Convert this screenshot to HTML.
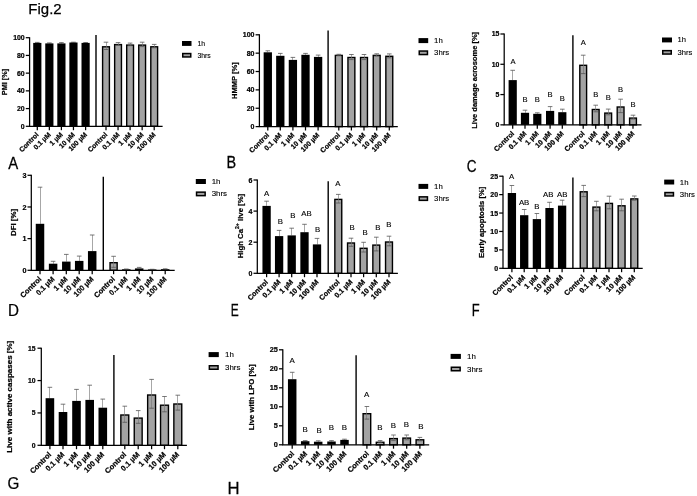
<!DOCTYPE html>
<html lang="en"><head><meta charset="utf-8"><title>Fig.2</title>
<style>html,body{margin:0;padding:0;background:#fff;overflow:hidden}svg{display:block;filter:blur(0.3px)}text{font-family:"Liberation Sans",Arial,sans-serif;fill:#000}.b{font-weight:bold;stroke:#000;stroke-width:0.22}.r{font-weight:normal;stroke:#000;stroke-width:0.12}.a{stroke:#000;stroke-width:1.25;fill:none}.d{stroke:#000;stroke-width:1.4;fill:none}.e{stroke:#777;stroke-width:0.65;fill:none}.c{stroke:#555;stroke-width:0.8;fill:none}.t{font-weight:normal;stroke:#000;stroke-width:0.25}</style></head><body>
<svg width="697" height="496" viewBox="0 0 697 496">
<rect width="697" height="496" fill="#fff"/>
<text class="t" font-size="14.97" transform="translate(28.36 13.6) scale(1.000 1)">Fig.2</text>
<text class="t" font-size="16.15" transform="translate(8.31 168.7) scale(0.926 1)">A</text>
<text class="t" font-size="16.15" transform="translate(226.41 167.6) scale(0.896 1)">B</text>
<text class="t" font-size="15.83" transform="translate(466.82 171.84) scale(0.859 1)">C</text>
<text class="t" font-size="16" transform="translate(8.05 315.9) scale(0.949 1)">D</text>
<text class="t" font-size="16.58" transform="translate(230.81 315.7) scale(0.723 1)">E</text>
<text class="t" font-size="16.29" transform="translate(471.73 315.9) scale(0.793 1)">F</text>
<text class="t" font-size="16.11" transform="translate(7.59 489.34) scale(0.946 1)">G</text>
<text class="t" font-size="16.87" transform="translate(227.62 493.6) scale(0.989 1)">H</text>
<!-- panel A -->
<g>
<line class="e" x1="37.5" y1="42.9" x2="37.5" y2="42.4"/>
<line class="c" x1="35" y1="42.4" x2="39.6" y2="42.4"/>
<rect x="33.2" y="42.9" width="8.2" height="83.4" fill="#000"/>
<line class="e" x1="49.5" y1="43.4" x2="49.5" y2="42.9"/>
<line class="c" x1="47.05" y1="42.9" x2="51.65" y2="42.9"/>
<rect x="45.25" y="43.4" width="8.2" height="82.9" fill="#000"/>
<line class="e" x1="61.5" y1="43.4" x2="61.5" y2="42.6"/>
<line class="c" x1="59.1" y1="42.6" x2="63.7" y2="42.6"/>
<rect x="57.3" y="43.4" width="8.2" height="82.9" fill="#000"/>
<line class="e" x1="73.5" y1="42.5" x2="73.5" y2="42.2"/>
<line class="c" x1="71.15" y1="42.2" x2="75.75" y2="42.2"/>
<rect x="69.35" y="42.5" width="8.2" height="83.8" fill="#000"/>
<line class="e" x1="85.5" y1="42.9" x2="85.5" y2="42.5"/>
<line class="c" x1="83.3" y1="42.5" x2="87.9" y2="42.5"/>
<rect x="81.5" y="42.9" width="8.2" height="83.4" fill="#000"/>
<rect x="102.6" y="46.8" width="6.8" height="79.5" fill="#a3a3a3" stroke="#000" stroke-width="1.4"/>
<line class="e" x1="106.5" y1="49.5" x2="106.5" y2="42.2"/>
<line class="c" x1="103.7" y1="42.2" x2="108.3" y2="42.2"/>
<line class="c" x1="103.7" y1="49.5" x2="108.3" y2="49.5"/>
<rect x="114.65" y="44.6" width="6.8" height="81.7" fill="#a3a3a3" stroke="#000" stroke-width="1.4"/>
<line class="e" x1="118.5" y1="45.2" x2="118.5" y2="42.6"/>
<line class="c" x1="115.75" y1="42.6" x2="120.35" y2="42.6"/>
<line class="c" x1="115.75" y1="45.2" x2="120.35" y2="45.2"/>
<rect x="126.7" y="45.1" width="6.8" height="81.2" fill="#a3a3a3" stroke="#000" stroke-width="1.4"/>
<line class="e" x1="130.5" y1="45.7" x2="130.5" y2="43.1"/>
<line class="c" x1="127.8" y1="43.1" x2="132.4" y2="43.1"/>
<line class="c" x1="127.8" y1="45.7" x2="132.4" y2="45.7"/>
<rect x="138.75" y="45.1" width="6.8" height="81.2" fill="#a3a3a3" stroke="#000" stroke-width="1.4"/>
<line class="e" x1="142.5" y1="46.6" x2="142.5" y2="42.2"/>
<line class="c" x1="139.85" y1="42.2" x2="144.45" y2="42.2"/>
<line class="c" x1="139.85" y1="46.6" x2="144.45" y2="46.6"/>
<rect x="150.8" y="46.8" width="6.8" height="79.5" fill="#a3a3a3" stroke="#000" stroke-width="1.4"/>
<line class="e" x1="154.5" y1="47.8" x2="154.5" y2="44.4"/>
<line class="c" x1="151.9" y1="44.4" x2="156.5" y2="44.4"/>
<line class="c" x1="151.9" y1="47.8" x2="156.5" y2="47.8"/>
<path class="a" d="M29.6 37.2V126.3H162.6"/>
<line class="d" x1="96" y1="35" x2="96" y2="126.3"/>
<line class="a" x1="25.8" y1="126.3" x2="29.6" y2="126.3"/>
<text class="b" font-size="6.9" text-anchor="end" x="24.7" y="128.78">0</text>
<line class="a" x1="25.8" y1="108.58" x2="29.6" y2="108.58"/>
<text class="b" font-size="6.9" text-anchor="end" x="24.7" y="111.06">20</text>
<line class="a" x1="25.8" y1="90.86" x2="29.6" y2="90.86"/>
<text class="b" font-size="6.9" text-anchor="end" x="24.7" y="93.34">40</text>
<line class="a" x1="25.8" y1="73.14" x2="29.6" y2="73.14"/>
<text class="b" font-size="6.9" text-anchor="end" x="24.7" y="75.62">60</text>
<line class="a" x1="25.8" y1="55.42" x2="29.6" y2="55.42"/>
<text class="b" font-size="6.9" text-anchor="end" x="24.7" y="57.9">80</text>
<line class="a" x1="25.8" y1="37.7" x2="29.6" y2="37.7"/>
<text class="b" font-size="6.9" text-anchor="end" x="24.7" y="40.18">100</text>
<line class="a" x1="37.3" y1="126.3" x2="37.3" y2="130.2"/>
<text class="b" font-size="6.9" text-anchor="end" transform="translate(39.2 135.1) rotate(-45)">Control</text>
<line class="a" x1="49.35" y1="126.3" x2="49.35" y2="130.2"/>
<text class="b" font-size="6.9" text-anchor="end" transform="translate(51.25 135.1) rotate(-45)">0.1 µM</text>
<line class="a" x1="61.4" y1="126.3" x2="61.4" y2="130.2"/>
<text class="b" font-size="6.9" text-anchor="end" transform="translate(63.3 135.1) rotate(-45)">1 µM</text>
<line class="a" x1="73.45" y1="126.3" x2="73.45" y2="130.2"/>
<text class="b" font-size="6.9" text-anchor="end" transform="translate(75.35 135.1) rotate(-45)">10 µM</text>
<line class="a" x1="85.6" y1="126.3" x2="85.6" y2="130.2"/>
<text class="b" font-size="6.9" text-anchor="end" transform="translate(87.5 135.1) rotate(-45)">100 µM</text>
<line class="a" x1="106" y1="126.3" x2="106" y2="130.2"/>
<text class="b" font-size="6.9" text-anchor="end" transform="translate(107.9 135.1) rotate(-45)">Control</text>
<line class="a" x1="118.05" y1="126.3" x2="118.05" y2="130.2"/>
<text class="b" font-size="6.9" text-anchor="end" transform="translate(119.95 135.1) rotate(-45)">0.1 µM</text>
<line class="a" x1="130.1" y1="126.3" x2="130.1" y2="130.2"/>
<text class="b" font-size="6.9" text-anchor="end" transform="translate(132 135.1) rotate(-45)">1 µM</text>
<line class="a" x1="142.15" y1="126.3" x2="142.15" y2="130.2"/>
<text class="b" font-size="6.9" text-anchor="end" transform="translate(144.05 135.1) rotate(-45)">10 µM</text>
<line class="a" x1="154.2" y1="126.3" x2="154.2" y2="130.2"/>
<text class="b" font-size="6.9" text-anchor="end" transform="translate(156.1 135.1) rotate(-45)">100 µM</text>
<text class="b" font-size="7.3" text-anchor="middle" transform="translate(7.4 82) rotate(-90)">PMI [%]</text>
<rect x="182" y="41" width="9.5" height="4.9" fill="#000"/>
<rect x="182.75" y="53.55" width="8" height="3.4" fill="#a3a3a3" stroke="#000" stroke-width="1.5"/>
<text class="r" font-size="6.85" x="197.4" y="45.9">1h</text>
<text class="r" font-size="6.85" x="197.4" y="57.7">3hrs</text>
</g>
<!-- panel B -->
<g>
<line class="e" x1="267.5" y1="52.3" x2="267.5" y2="50.8"/>
<line class="c" x1="265.5" y1="50.8" x2="270.1" y2="50.8"/>
<rect x="263.65" y="52.3" width="8.3" height="74.3" fill="#000"/>
<line class="e" x1="280.5" y1="55.8" x2="280.5" y2="53.4"/>
<line class="c" x1="278" y1="53.4" x2="282.6" y2="53.4"/>
<rect x="276.15" y="55.8" width="8.3" height="70.8" fill="#000"/>
<line class="e" x1="292.5" y1="59.9" x2="292.5" y2="57.4"/>
<line class="c" x1="290.6" y1="57.4" x2="295.2" y2="57.4"/>
<rect x="288.75" y="59.9" width="8.3" height="66.7" fill="#000"/>
<line class="e" x1="305.5" y1="54.8" x2="305.5" y2="53.4"/>
<line class="c" x1="303.2" y1="53.4" x2="307.8" y2="53.4"/>
<rect x="301.35" y="54.8" width="8.3" height="71.8" fill="#000"/>
<line class="e" x1="318.5" y1="56.9" x2="318.5" y2="55.1"/>
<line class="c" x1="315.8" y1="55.1" x2="320.4" y2="55.1"/>
<rect x="313.95" y="56.9" width="8.3" height="69.7" fill="#000"/>
<rect x="335.35" y="55.4" width="6.9" height="71.2" fill="#a3a3a3" stroke="#000" stroke-width="1.4"/>
<line class="e" x1="338.5" y1="55.4" x2="338.5" y2="54.3"/>
<line class="c" x1="336.5" y1="54.3" x2="341.1" y2="54.3"/>
<line class="c" x1="336.5" y1="55.4" x2="341.1" y2="55.4"/>
<rect x="347.95" y="57.5" width="6.9" height="69.1" fill="#a3a3a3" stroke="#000" stroke-width="1.4"/>
<line class="e" x1="351.5" y1="59.6" x2="351.5" y2="54.5"/>
<line class="c" x1="349.1" y1="54.5" x2="353.7" y2="54.5"/>
<line class="c" x1="349.1" y1="59.6" x2="353.7" y2="59.6"/>
<rect x="360.55" y="57.5" width="6.9" height="69.1" fill="#a3a3a3" stroke="#000" stroke-width="1.4"/>
<line class="e" x1="364.5" y1="59.6" x2="364.5" y2="54.5"/>
<line class="c" x1="361.7" y1="54.5" x2="366.3" y2="54.5"/>
<line class="c" x1="361.7" y1="59.6" x2="366.3" y2="59.6"/>
<rect x="373.25" y="55.4" width="6.9" height="71.2" fill="#a3a3a3" stroke="#000" stroke-width="1.4"/>
<line class="e" x1="376.5" y1="56" x2="376.5" y2="53.8"/>
<line class="c" x1="374.4" y1="53.8" x2="379" y2="53.8"/>
<line class="c" x1="374.4" y1="56" x2="379" y2="56"/>
<rect x="385.85" y="56.3" width="6.9" height="70.3" fill="#a3a3a3" stroke="#000" stroke-width="1.4"/>
<line class="e" x1="389.5" y1="57.8" x2="389.5" y2="53.9"/>
<line class="c" x1="387" y1="53.9" x2="391.6" y2="53.9"/>
<line class="c" x1="387" y1="57.8" x2="391.6" y2="57.8"/>
<path class="a" d="M259.4 34.3V126.6H397.8"/>
<line class="d" x1="328.1" y1="30.5" x2="328.1" y2="126.6"/>
<line class="a" x1="255.6" y1="126.6" x2="259.4" y2="126.6"/>
<text class="b" font-size="7" text-anchor="end" x="254.5" y="129.12">0</text>
<line class="a" x1="255.6" y1="108.24" x2="259.4" y2="108.24"/>
<text class="b" font-size="7" text-anchor="end" x="254.5" y="110.76">20</text>
<line class="a" x1="255.6" y1="89.88" x2="259.4" y2="89.88"/>
<text class="b" font-size="7" text-anchor="end" x="254.5" y="92.4">40</text>
<line class="a" x1="255.6" y1="71.52" x2="259.4" y2="71.52"/>
<text class="b" font-size="7" text-anchor="end" x="254.5" y="74.04">60</text>
<line class="a" x1="255.6" y1="53.16" x2="259.4" y2="53.16"/>
<text class="b" font-size="7" text-anchor="end" x="254.5" y="55.68">80</text>
<line class="a" x1="255.6" y1="34.8" x2="259.4" y2="34.8"/>
<text class="b" font-size="7" text-anchor="end" x="254.5" y="37.32">100</text>
<line class="a" x1="267.8" y1="126.6" x2="267.8" y2="130.5"/>
<text class="b" font-size="7" text-anchor="end" transform="translate(269.7 135.7) rotate(-45)">Control</text>
<line class="a" x1="280.3" y1="126.6" x2="280.3" y2="130.5"/>
<text class="b" font-size="7" text-anchor="end" transform="translate(282.2 135.7) rotate(-45)">0.1 µM</text>
<line class="a" x1="292.9" y1="126.6" x2="292.9" y2="130.5"/>
<text class="b" font-size="7" text-anchor="end" transform="translate(294.8 135.7) rotate(-45)">1 µM</text>
<line class="a" x1="305.5" y1="126.6" x2="305.5" y2="130.5"/>
<text class="b" font-size="7" text-anchor="end" transform="translate(307.4 135.7) rotate(-45)">10 µM</text>
<line class="a" x1="318.1" y1="126.6" x2="318.1" y2="130.5"/>
<text class="b" font-size="7" text-anchor="end" transform="translate(320 135.7) rotate(-45)">100 µM</text>
<line class="a" x1="338.8" y1="126.6" x2="338.8" y2="130.5"/>
<text class="b" font-size="7" text-anchor="end" transform="translate(340.7 135.7) rotate(-45)">Control</text>
<line class="a" x1="351.4" y1="126.6" x2="351.4" y2="130.5"/>
<text class="b" font-size="7" text-anchor="end" transform="translate(353.3 135.7) rotate(-45)">0.1 µM</text>
<line class="a" x1="364" y1="126.6" x2="364" y2="130.5"/>
<text class="b" font-size="7" text-anchor="end" transform="translate(365.9 135.7) rotate(-45)">1 µM</text>
<line class="a" x1="376.7" y1="126.6" x2="376.7" y2="130.5"/>
<text class="b" font-size="7" text-anchor="end" transform="translate(378.6 135.7) rotate(-45)">10 µM</text>
<line class="a" x1="389.3" y1="126.6" x2="389.3" y2="130.5"/>
<text class="b" font-size="7" text-anchor="end" transform="translate(391.2 135.7) rotate(-45)">100 µM</text>
<text class="b" font-size="7.55" text-anchor="middle" transform="translate(237.36 80.7) rotate(-90)">HMMP [%]</text>
<rect x="418.5" y="38.1" width="9.7" height="5" fill="#000"/>
<rect x="419.25" y="51.05" width="8.2" height="3.5" fill="#a3a3a3" stroke="#000" stroke-width="1.5"/>
<text class="r" font-size="7.81" x="434.1" y="43.1">1h</text>
<text class="r" font-size="7.81" x="434.1" y="55.3">3hrs</text>
</g>
<!-- panel C -->
<g>
<line class="e" x1="512.5" y1="80.1" x2="512.5" y2="70.3"/>
<line class="c" x1="510.4" y1="70.3" x2="515" y2="70.3"/>
<rect x="508.6" y="80.1" width="8.2" height="44.75" fill="#000"/>
<line class="e" x1="525.5" y1="112.8" x2="525.5" y2="110.2"/>
<line class="c" x1="522.7" y1="110.2" x2="527.3" y2="110.2"/>
<rect x="520.9" y="112.8" width="8.2" height="12.05" fill="#000"/>
<line class="e" x1="537.5" y1="113.8" x2="537.5" y2="112.8"/>
<line class="c" x1="535" y1="112.8" x2="539.6" y2="112.8"/>
<rect x="533.2" y="113.8" width="8.2" height="11.05" fill="#000"/>
<line class="e" x1="550.5" y1="110.9" x2="550.5" y2="106.6"/>
<line class="c" x1="547.8" y1="106.6" x2="552.4" y2="106.6"/>
<rect x="546" y="110.9" width="8.2" height="13.95" fill="#000"/>
<line class="e" x1="562.5" y1="112.2" x2="562.5" y2="109.2"/>
<line class="c" x1="560" y1="109.2" x2="564.6" y2="109.2"/>
<rect x="558.2" y="112.2" width="8.2" height="12.65" fill="#000"/>
<rect x="579.8" y="65.3" width="6.8" height="59.55" fill="#a3a3a3" stroke="#000" stroke-width="1.4"/>
<line class="e" x1="583.5" y1="73.6" x2="583.5" y2="55.2"/>
<line class="c" x1="580.9" y1="55.2" x2="585.5" y2="55.2"/>
<line class="c" x1="580.9" y1="73.6" x2="585.5" y2="73.6"/>
<rect x="592.3" y="109.5" width="6.8" height="15.35" fill="#a3a3a3" stroke="#000" stroke-width="1.4"/>
<line class="e" x1="595.5" y1="111.8" x2="595.5" y2="105.2"/>
<line class="c" x1="593.4" y1="105.2" x2="598" y2="105.2"/>
<line class="c" x1="593.4" y1="111.8" x2="598" y2="111.8"/>
<rect x="604.8" y="113.1" width="6.8" height="11.75" fill="#a3a3a3" stroke="#000" stroke-width="1.4"/>
<line class="e" x1="608.5" y1="114.8" x2="608.5" y2="109.1"/>
<line class="c" x1="605.9" y1="109.1" x2="610.5" y2="109.1"/>
<line class="c" x1="605.9" y1="114.8" x2="610.5" y2="114.8"/>
<rect x="617.2" y="107" width="6.8" height="17.85" fill="#a3a3a3" stroke="#000" stroke-width="1.4"/>
<line class="e" x1="620.5" y1="112.6" x2="620.5" y2="99.2"/>
<line class="c" x1="618.3" y1="99.2" x2="622.9" y2="99.2"/>
<line class="c" x1="618.3" y1="112.6" x2="622.9" y2="112.6"/>
<rect x="629.6" y="118.1" width="6.8" height="6.75" fill="#a3a3a3" stroke="#000" stroke-width="1.4"/>
<line class="e" x1="633.5" y1="119" x2="633.5" y2="115.2"/>
<line class="c" x1="630.7" y1="115.2" x2="635.3" y2="115.2"/>
<line class="c" x1="630.7" y1="119" x2="635.3" y2="119"/>
<path class="a" d="M504.2 33.5V124.85H641.5"/>
<line class="d" x1="572.9" y1="35.2" x2="572.9" y2="124.85"/>
<line class="a" x1="500.4" y1="124.85" x2="504.2" y2="124.85"/>
<text class="b" font-size="6.9" text-anchor="end" x="499.3" y="127.33">0</text>
<line class="a" x1="500.4" y1="94.57" x2="504.2" y2="94.57"/>
<text class="b" font-size="6.9" text-anchor="end" x="499.3" y="97.05">5</text>
<line class="a" x1="500.4" y1="64.28" x2="504.2" y2="64.28"/>
<text class="b" font-size="6.9" text-anchor="end" x="499.3" y="66.77">10</text>
<line class="a" x1="500.4" y1="34" x2="504.2" y2="34"/>
<text class="b" font-size="6.9" text-anchor="end" x="499.3" y="36.48">15</text>
<line class="a" x1="512.7" y1="124.85" x2="512.7" y2="128.75"/>
<text class="b" font-size="7.11" text-anchor="end" transform="translate(514.6 134.15) rotate(-45)">Control</text>
<line class="a" x1="525" y1="124.85" x2="525" y2="128.75"/>
<text class="b" font-size="7.11" text-anchor="end" transform="translate(526.9 134.15) rotate(-45)">0.1 µM</text>
<line class="a" x1="537.3" y1="124.85" x2="537.3" y2="128.75"/>
<text class="b" font-size="7.11" text-anchor="end" transform="translate(539.2 134.15) rotate(-45)">1 µM</text>
<line class="a" x1="550.1" y1="124.85" x2="550.1" y2="128.75"/>
<text class="b" font-size="7.11" text-anchor="end" transform="translate(552 134.15) rotate(-45)">10 µM</text>
<line class="a" x1="562.3" y1="124.85" x2="562.3" y2="128.75"/>
<text class="b" font-size="7.11" text-anchor="end" transform="translate(564.2 134.15) rotate(-45)">100 µM</text>
<line class="a" x1="583.2" y1="124.85" x2="583.2" y2="128.75"/>
<text class="b" font-size="7.11" text-anchor="end" transform="translate(585.1 134.15) rotate(-45)">Control</text>
<line class="a" x1="595.7" y1="124.85" x2="595.7" y2="128.75"/>
<text class="b" font-size="7.11" text-anchor="end" transform="translate(597.6 134.15) rotate(-45)">0.1 µM</text>
<line class="a" x1="608.2" y1="124.85" x2="608.2" y2="128.75"/>
<text class="b" font-size="7.11" text-anchor="end" transform="translate(610.1 134.15) rotate(-45)">1 µM</text>
<line class="a" x1="620.6" y1="124.85" x2="620.6" y2="128.75"/>
<text class="b" font-size="7.11" text-anchor="end" transform="translate(622.5 134.15) rotate(-45)">10 µM</text>
<line class="a" x1="633" y1="124.85" x2="633" y2="128.75"/>
<text class="b" font-size="7.11" text-anchor="end" transform="translate(634.9 134.15) rotate(-45)">100 µM</text>
<text class="r" font-size="7.6" text-anchor="middle" x="513.1" y="63.9">A</text>
<text class="r" font-size="7.6" text-anchor="middle" x="525" y="102.4">B</text>
<text class="r" font-size="7.6" text-anchor="middle" x="537.3" y="102.4">B</text>
<text class="r" font-size="7.6" text-anchor="middle" x="550.1" y="97.2">B</text>
<text class="r" font-size="7.6" text-anchor="middle" x="562.3" y="101.2">B</text>
<text class="r" font-size="7.6" text-anchor="middle" x="583.2" y="45.4">A</text>
<text class="r" font-size="7.6" text-anchor="middle" x="595.7" y="96.5">B</text>
<text class="r" font-size="7.6" text-anchor="middle" x="608.2" y="100.4">B</text>
<text class="r" font-size="7.6" text-anchor="middle" x="620.6" y="91.5">B</text>
<text class="r" font-size="7.6" text-anchor="middle" x="633" y="106.5">B</text>
<text class="b" font-size="7.52" text-anchor="middle" transform="translate(477.26 80.33) rotate(-90)">Live damage acrosome [%]</text>
<rect x="662" y="37.5" width="10" height="4.9" fill="#000"/>
<rect x="662.75" y="50.65" width="8.5" height="3.4" fill="#a3a3a3" stroke="#000" stroke-width="1.5"/>
<text class="r" font-size="7.6" x="677.5" y="42.4">1h</text>
<text class="r" font-size="7.6" x="677.5" y="54.8">3hrs</text>
</g>
<!-- panel D -->
<g>
<line class="e" x1="40.5" y1="223.8" x2="40.5" y2="187.2"/>
<line class="c" x1="37.7" y1="187.2" x2="42.3" y2="187.2"/>
<rect x="35.75" y="223.8" width="8.5" height="46.5" fill="#000"/>
<line class="e" x1="53.5" y1="263.7" x2="53.5" y2="261.3"/>
<line class="c" x1="50.8" y1="261.3" x2="55.4" y2="261.3"/>
<rect x="48.85" y="263.7" width="8.5" height="6.6" fill="#000"/>
<line class="e" x1="66.5" y1="261.6" x2="66.5" y2="254.4"/>
<line class="c" x1="64" y1="254.4" x2="68.6" y2="254.4"/>
<rect x="62.05" y="261.6" width="8.5" height="8.7" fill="#000"/>
<line class="e" x1="79.5" y1="260.9" x2="79.5" y2="256.1"/>
<line class="c" x1="76.9" y1="256.1" x2="81.5" y2="256.1"/>
<rect x="74.95" y="260.9" width="8.5" height="9.4" fill="#000"/>
<line class="e" x1="92.5" y1="251.1" x2="92.5" y2="235"/>
<line class="c" x1="89.9" y1="235" x2="94.5" y2="235"/>
<rect x="87.95" y="251.1" width="8.5" height="19.2" fill="#000"/>
<rect x="110.05" y="262.7" width="7.1" height="7.6" fill="#a3a3a3" stroke="#000" stroke-width="1.4"/>
<line class="e" x1="113.5" y1="267.3" x2="113.5" y2="256.3"/>
<line class="c" x1="111.3" y1="256.3" x2="115.9" y2="256.3"/>
<line class="c" x1="111.3" y1="267.3" x2="115.9" y2="267.3"/>
<rect x="122.05" y="269.1" width="8.5" height="1.2" fill="#333"/>
<line class="e" x1="126.5" y1="269.4" x2="126.5" y2="269"/>
<line class="c" x1="124" y1="269" x2="128.6" y2="269"/>
<rect x="135.65" y="269.1" width="7.1" height="1.2" fill="#a3a3a3" stroke="#000" stroke-width="1.4"/>
<line class="e" x1="139.5" y1="268.4" x2="139.5" y2="267.4"/>
<line class="c" x1="136.9" y1="267.4" x2="141.5" y2="267.4"/>
<rect x="147.95" y="269.3" width="8.5" height="1" fill="#333"/>
<line class="e" x1="152.5" y1="269.6" x2="152.5" y2="269.3"/>
<line class="c" x1="149.9" y1="269.3" x2="154.5" y2="269.3"/>
<rect x="160.95" y="269" width="8.5" height="1.3" fill="#333"/>
<line class="e" x1="165.5" y1="269.3" x2="165.5" y2="268.8"/>
<line class="c" x1="162.9" y1="268.8" x2="167.5" y2="268.8"/>
<path class="a" d="M31.3 174.8V270.3H174.7"/>
<line class="d" x1="103.3" y1="176.8" x2="103.3" y2="270.3"/>
<line class="a" x1="27.5" y1="270.3" x2="31.3" y2="270.3"/>
<text class="b" font-size="7.2" text-anchor="end" x="26.4" y="272.89">0</text>
<line class="a" x1="27.5" y1="238.63" x2="31.3" y2="238.63"/>
<text class="b" font-size="7.2" text-anchor="end" x="26.4" y="241.23">1</text>
<line class="a" x1="27.5" y1="206.97" x2="31.3" y2="206.97"/>
<text class="b" font-size="7.2" text-anchor="end" x="26.4" y="209.56">2</text>
<line class="a" x1="27.5" y1="175.3" x2="31.3" y2="175.3"/>
<text class="b" font-size="7.2" text-anchor="end" x="26.4" y="177.89">3</text>
<line class="a" x1="40" y1="270.3" x2="40" y2="274.2"/>
<text class="b" font-size="7.42" text-anchor="end" transform="translate(41.9 279.6) rotate(-45)">Control</text>
<line class="a" x1="53.1" y1="270.3" x2="53.1" y2="274.2"/>
<text class="b" font-size="7.42" text-anchor="end" transform="translate(55 279.6) rotate(-45)">0.1 µM</text>
<line class="a" x1="66.3" y1="270.3" x2="66.3" y2="274.2"/>
<text class="b" font-size="7.42" text-anchor="end" transform="translate(68.2 279.6) rotate(-45)">1 µM</text>
<line class="a" x1="79.2" y1="270.3" x2="79.2" y2="274.2"/>
<text class="b" font-size="7.42" text-anchor="end" transform="translate(81.1 279.6) rotate(-45)">10 µM</text>
<line class="a" x1="92.2" y1="270.3" x2="92.2" y2="274.2"/>
<text class="b" font-size="7.42" text-anchor="end" transform="translate(94.1 279.6) rotate(-45)">100 µM</text>
<line class="a" x1="113.6" y1="270.3" x2="113.6" y2="274.2"/>
<text class="b" font-size="7.42" text-anchor="end" transform="translate(115.5 279.6) rotate(-45)">Control</text>
<line class="a" x1="126.3" y1="270.3" x2="126.3" y2="274.2"/>
<text class="b" font-size="7.42" text-anchor="end" transform="translate(128.2 279.6) rotate(-45)">0.1 µM</text>
<line class="a" x1="139.2" y1="270.3" x2="139.2" y2="274.2"/>
<text class="b" font-size="7.42" text-anchor="end" transform="translate(141.1 279.6) rotate(-45)">1 µM</text>
<line class="a" x1="152.2" y1="270.3" x2="152.2" y2="274.2"/>
<text class="b" font-size="7.42" text-anchor="end" transform="translate(154.1 279.6) rotate(-45)">10 µM</text>
<line class="a" x1="165.2" y1="270.3" x2="165.2" y2="274.2"/>
<text class="b" font-size="7.42" text-anchor="end" transform="translate(167.1 279.6) rotate(-45)">100 µM</text>
<text class="b" font-size="7.85" text-anchor="middle" transform="translate(16.14 222.5) rotate(-90)">DFI [%]</text>
<rect x="195.8" y="179" width="10.1" height="5" fill="#000"/>
<rect x="196.55" y="192.15" width="8.6" height="3.5" fill="#a3a3a3" stroke="#000" stroke-width="1.5"/>
<text class="r" font-size="7.92" x="211.7" y="184">1h</text>
<text class="r" font-size="7.92" x="211.7" y="196.4">3hrs</text>
</g>
<!-- panel E -->
<g>
<line class="e" x1="266.5" y1="205.9" x2="266.5" y2="201.2"/>
<line class="c" x1="264.3" y1="201.2" x2="268.9" y2="201.2"/>
<rect x="262.45" y="205.9" width="8.3" height="67.4" fill="#000"/>
<line class="e" x1="279.5" y1="236.1" x2="279.5" y2="230.4"/>
<line class="c" x1="276.8" y1="230.4" x2="281.4" y2="230.4"/>
<rect x="274.95" y="236.1" width="8.3" height="37.2" fill="#000"/>
<line class="e" x1="291.5" y1="235.4" x2="291.5" y2="228.2"/>
<line class="c" x1="289.4" y1="228.2" x2="294" y2="228.2"/>
<rect x="287.55" y="235.4" width="8.3" height="37.9" fill="#000"/>
<line class="e" x1="304.5" y1="232.2" x2="304.5" y2="224.3"/>
<line class="c" x1="302.2" y1="224.3" x2="306.8" y2="224.3"/>
<rect x="300.35" y="232.2" width="8.3" height="41.1" fill="#000"/>
<line class="e" x1="317.5" y1="244.4" x2="317.5" y2="238.4"/>
<line class="c" x1="314.7" y1="238.4" x2="319.3" y2="238.4"/>
<rect x="312.85" y="244.4" width="8.3" height="28.9" fill="#000"/>
<rect x="334.85" y="199.4" width="6.9" height="73.9" fill="#a3a3a3" stroke="#000" stroke-width="1.4"/>
<line class="e" x1="338.5" y1="203" x2="338.5" y2="194.4"/>
<line class="c" x1="336" y1="194.4" x2="340.6" y2="194.4"/>
<line class="c" x1="336" y1="203" x2="340.6" y2="203"/>
<rect x="347.55" y="243" width="6.9" height="30.3" fill="#a3a3a3" stroke="#000" stroke-width="1.4"/>
<line class="e" x1="351.5" y1="246.3" x2="351.5" y2="238.2"/>
<line class="c" x1="348.7" y1="238.2" x2="353.3" y2="238.2"/>
<line class="c" x1="348.7" y1="246.3" x2="353.3" y2="246.3"/>
<rect x="360.15" y="248.3" width="6.9" height="25" fill="#a3a3a3" stroke="#000" stroke-width="1.4"/>
<line class="e" x1="363.5" y1="252" x2="363.5" y2="242.3"/>
<line class="c" x1="361.3" y1="242.3" x2="365.9" y2="242.3"/>
<line class="c" x1="361.3" y1="252" x2="365.9" y2="252"/>
<rect x="372.85" y="245.1" width="6.9" height="28.2" fill="#a3a3a3" stroke="#000" stroke-width="1.4"/>
<line class="e" x1="376.5" y1="250.9" x2="376.5" y2="237.2"/>
<line class="c" x1="374" y1="237.2" x2="378.6" y2="237.2"/>
<line class="c" x1="374" y1="250.9" x2="378.6" y2="250.9"/>
<rect x="385.55" y="242" width="6.9" height="31.3" fill="#a3a3a3" stroke="#000" stroke-width="1.4"/>
<line class="e" x1="389.5" y1="245.8" x2="389.5" y2="236.2"/>
<line class="c" x1="386.7" y1="236.2" x2="391.3" y2="236.2"/>
<line class="c" x1="386.7" y1="245.8" x2="391.3" y2="245.8"/>
<path class="a" d="M257.3 179.5V273.3H397.9"/>
<line class="d" x1="328.2" y1="181.2" x2="328.2" y2="273.3"/>
<line class="a" x1="253.5" y1="273.3" x2="257.3" y2="273.3"/>
<text class="b" font-size="7" text-anchor="end" x="252.4" y="275.82">0</text>
<line class="a" x1="253.5" y1="242.2" x2="257.3" y2="242.2"/>
<text class="b" font-size="7" text-anchor="end" x="252.4" y="244.72">2</text>
<line class="a" x1="253.5" y1="211.1" x2="257.3" y2="211.1"/>
<text class="b" font-size="7" text-anchor="end" x="252.4" y="213.62">4</text>
<line class="a" x1="253.5" y1="180" x2="257.3" y2="180"/>
<text class="b" font-size="7" text-anchor="end" x="252.4" y="182.52">6</text>
<line class="a" x1="266.6" y1="273.3" x2="266.6" y2="277.2"/>
<text class="b" font-size="7.21" text-anchor="end" transform="translate(268.5 282.6) rotate(-45)">Control</text>
<line class="a" x1="279.1" y1="273.3" x2="279.1" y2="277.2"/>
<text class="b" font-size="7.21" text-anchor="end" transform="translate(281 282.6) rotate(-45)">0.1 µM</text>
<line class="a" x1="291.7" y1="273.3" x2="291.7" y2="277.2"/>
<text class="b" font-size="7.21" text-anchor="end" transform="translate(293.6 282.6) rotate(-45)">1 µM</text>
<line class="a" x1="304.5" y1="273.3" x2="304.5" y2="277.2"/>
<text class="b" font-size="7.21" text-anchor="end" transform="translate(306.4 282.6) rotate(-45)">10 µM</text>
<line class="a" x1="317" y1="273.3" x2="317" y2="277.2"/>
<text class="b" font-size="7.21" text-anchor="end" transform="translate(318.9 282.6) rotate(-45)">100 µM</text>
<line class="a" x1="338.3" y1="273.3" x2="338.3" y2="277.2"/>
<text class="b" font-size="7.21" text-anchor="end" transform="translate(340.2 282.6) rotate(-45)">Control</text>
<line class="a" x1="351" y1="273.3" x2="351" y2="277.2"/>
<text class="b" font-size="7.21" text-anchor="end" transform="translate(352.9 282.6) rotate(-45)">0.1 µM</text>
<line class="a" x1="363.6" y1="273.3" x2="363.6" y2="277.2"/>
<text class="b" font-size="7.21" text-anchor="end" transform="translate(365.5 282.6) rotate(-45)">1 µM</text>
<line class="a" x1="376.3" y1="273.3" x2="376.3" y2="277.2"/>
<text class="b" font-size="7.21" text-anchor="end" transform="translate(378.2 282.6) rotate(-45)">10 µM</text>
<line class="a" x1="389" y1="273.3" x2="389" y2="277.2"/>
<text class="b" font-size="7.21" text-anchor="end" transform="translate(390.9 282.6) rotate(-45)">100 µM</text>
<text class="r" font-size="7.81" text-anchor="middle" x="266.5" y="195.9">A</text>
<text class="r" font-size="7.81" text-anchor="middle" x="280.3" y="224.1">B</text>
<text class="r" font-size="7.81" text-anchor="middle" x="292.8" y="218.4">B</text>
<text class="r" font-size="7.81" text-anchor="middle" x="306.4" y="216.2">AB</text>
<text class="r" font-size="7.81" text-anchor="middle" x="317.6" y="232.4">B</text>
<text class="r" font-size="7.81" text-anchor="middle" x="337.8" y="186.4">A</text>
<text class="r" font-size="7.81" text-anchor="middle" x="352.1" y="230.15">B</text>
<text class="r" font-size="7.81" text-anchor="middle" x="365" y="234.9">B</text>
<text class="r" font-size="7.81" text-anchor="middle" x="377.9" y="229.9">B</text>
<text class="r" font-size="7.81" text-anchor="middle" x="388.9" y="226.7">B</text>
<text class="b" font-size="7.75" text-anchor="middle" transform="translate(242.71 226.05) rotate(-90)">High Ca<tspan font-size="5.12" dy="-3.49">2+</tspan><tspan dy="3.49"> live [%]</tspan></text>
<rect x="418.5" y="183.9" width="9.7" height="5" fill="#000"/>
<rect x="419.25" y="196.85" width="8.2" height="3.5" fill="#a3a3a3" stroke="#000" stroke-width="1.5"/>
<text class="r" font-size="7.81" x="434.1" y="188.9">1h</text>
<text class="r" font-size="7.81" x="434.1" y="201.1">3hrs</text>
</g>
<!-- panel F -->
<g>
<line class="e" x1="511.5" y1="193" x2="511.5" y2="185.5"/>
<line class="c" x1="509.6" y1="185.5" x2="514.2" y2="185.5"/>
<rect x="507.75" y="193" width="8.3" height="75.3" fill="#000"/>
<line class="e" x1="524.5" y1="215.2" x2="524.5" y2="209.5"/>
<line class="c" x1="521.9" y1="209.5" x2="526.5" y2="209.5"/>
<rect x="520.05" y="215.2" width="8.3" height="53.1" fill="#000"/>
<line class="e" x1="536.5" y1="219.1" x2="536.5" y2="213.5"/>
<line class="c" x1="534.6" y1="213.5" x2="539.2" y2="213.5"/>
<rect x="532.75" y="219.1" width="8.3" height="49.2" fill="#000"/>
<line class="e" x1="549.5" y1="208" x2="549.5" y2="202.3"/>
<line class="c" x1="547.2" y1="202.3" x2="551.8" y2="202.3"/>
<rect x="545.35" y="208" width="8.3" height="60.3" fill="#000"/>
<line class="e" x1="562.5" y1="205.6" x2="562.5" y2="200.2"/>
<line class="c" x1="559.8" y1="200.2" x2="564.4" y2="200.2"/>
<rect x="557.95" y="205.6" width="8.3" height="62.7" fill="#000"/>
<rect x="580.25" y="191.8" width="6.9" height="76.5" fill="#a3a3a3" stroke="#000" stroke-width="1.4"/>
<line class="e" x1="583.5" y1="196.6" x2="583.5" y2="185.4"/>
<line class="c" x1="581.4" y1="185.4" x2="586" y2="185.4"/>
<line class="c" x1="581.4" y1="196.6" x2="586" y2="196.6"/>
<rect x="592.95" y="207.1" width="6.9" height="61.2" fill="#a3a3a3" stroke="#000" stroke-width="1.4"/>
<line class="e" x1="596.5" y1="210.8" x2="596.5" y2="201.3"/>
<line class="c" x1="594.1" y1="201.3" x2="598.7" y2="201.3"/>
<line class="c" x1="594.1" y1="210.8" x2="598.7" y2="210.8"/>
<rect x="605.55" y="203.4" width="6.9" height="64.9" fill="#a3a3a3" stroke="#000" stroke-width="1.4"/>
<line class="e" x1="609.5" y1="208.8" x2="609.5" y2="196.2"/>
<line class="c" x1="606.7" y1="196.2" x2="611.3" y2="196.2"/>
<line class="c" x1="606.7" y1="208.8" x2="611.3" y2="208.8"/>
<rect x="618.15" y="205.8" width="6.9" height="62.5" fill="#a3a3a3" stroke="#000" stroke-width="1.4"/>
<line class="e" x1="621.5" y1="210.8" x2="621.5" y2="199.2"/>
<line class="c" x1="619.3" y1="199.2" x2="623.9" y2="199.2"/>
<line class="c" x1="619.3" y1="210.8" x2="623.9" y2="210.8"/>
<rect x="630.85" y="198.9" width="6.9" height="69.4" fill="#a3a3a3" stroke="#000" stroke-width="1.4"/>
<line class="e" x1="634.5" y1="200.2" x2="634.5" y2="196"/>
<line class="c" x1="632" y1="196" x2="636.6" y2="196"/>
<line class="c" x1="632" y1="200.2" x2="636.6" y2="200.2"/>
<path class="a" d="M503 175.7V268.3H642.7"/>
<line class="d" x1="572.9" y1="177.6" x2="572.9" y2="268.3"/>
<line class="a" x1="499.2" y1="268.3" x2="503" y2="268.3"/>
<text class="b" font-size="7" text-anchor="end" x="498.1" y="270.82">0</text>
<line class="a" x1="499.2" y1="249.88" x2="503" y2="249.88"/>
<text class="b" font-size="7" text-anchor="end" x="498.1" y="252.4">5</text>
<line class="a" x1="499.2" y1="231.46" x2="503" y2="231.46"/>
<text class="b" font-size="7" text-anchor="end" x="498.1" y="233.98">10</text>
<line class="a" x1="499.2" y1="213.04" x2="503" y2="213.04"/>
<text class="b" font-size="7" text-anchor="end" x="498.1" y="215.56">15</text>
<line class="a" x1="499.2" y1="194.62" x2="503" y2="194.62"/>
<text class="b" font-size="7" text-anchor="end" x="498.1" y="197.14">20</text>
<line class="a" x1="499.2" y1="176.2" x2="503" y2="176.2"/>
<text class="b" font-size="7" text-anchor="end" x="498.1" y="178.72">25</text>
<line class="a" x1="511.9" y1="268.3" x2="511.9" y2="272.2"/>
<text class="b" font-size="7.21" text-anchor="end" transform="translate(513.4 277.9) rotate(-45)">Control</text>
<line class="a" x1="524.2" y1="268.3" x2="524.2" y2="272.2"/>
<text class="b" font-size="7.21" text-anchor="end" transform="translate(525.7 277.9) rotate(-45)">0.1 µM</text>
<line class="a" x1="536.9" y1="268.3" x2="536.9" y2="272.2"/>
<text class="b" font-size="7.21" text-anchor="end" transform="translate(538.4 277.9) rotate(-45)">1 µM</text>
<line class="a" x1="549.5" y1="268.3" x2="549.5" y2="272.2"/>
<text class="b" font-size="7.21" text-anchor="end" transform="translate(551 277.9) rotate(-45)">10 µM</text>
<line class="a" x1="562.1" y1="268.3" x2="562.1" y2="272.2"/>
<text class="b" font-size="7.21" text-anchor="end" transform="translate(563.6 277.9) rotate(-45)">100 µM</text>
<line class="a" x1="583.7" y1="268.3" x2="583.7" y2="272.2"/>
<text class="b" font-size="7.21" text-anchor="end" transform="translate(585.2 277.9) rotate(-45)">Control</text>
<line class="a" x1="596.4" y1="268.3" x2="596.4" y2="272.2"/>
<text class="b" font-size="7.21" text-anchor="end" transform="translate(597.9 277.9) rotate(-45)">0.1 µM</text>
<line class="a" x1="609" y1="268.3" x2="609" y2="272.2"/>
<text class="b" font-size="7.21" text-anchor="end" transform="translate(610.5 277.9) rotate(-45)">1 µM</text>
<line class="a" x1="621.6" y1="268.3" x2="621.6" y2="272.2"/>
<text class="b" font-size="7.21" text-anchor="end" transform="translate(623.1 277.9) rotate(-45)">10 µM</text>
<line class="a" x1="634.3" y1="268.3" x2="634.3" y2="272.2"/>
<text class="b" font-size="7.21" text-anchor="end" transform="translate(635.8 277.9) rotate(-45)">100 µM</text>
<text class="r" font-size="7.81" text-anchor="middle" x="511.5" y="178.9">A</text>
<text class="r" font-size="7.81" text-anchor="middle" x="524.1" y="205.3">AB</text>
<text class="r" font-size="7.81" text-anchor="middle" x="536.9" y="208.9">B</text>
<text class="r" font-size="7.81" text-anchor="middle" x="548.3" y="196.5">AB</text>
<text class="r" font-size="7.81" text-anchor="middle" x="562.2" y="196.5">AB</text>
<text class="b" font-size="7.7" text-anchor="middle" transform="translate(483.8 222.25) rotate(-90)">Early apoptosis [%]</text>
<rect x="664.2" y="179.6" width="10" height="4.9" fill="#000"/>
<rect x="664.95" y="192.55" width="8.5" height="3.4" fill="#a3a3a3" stroke="#000" stroke-width="1.5"/>
<text class="r" font-size="7.81" x="679.8" y="184.5">1h</text>
<text class="r" font-size="7.81" x="679.8" y="196.7">3hrs</text>
</g>
<!-- panel G -->
<g>
<line class="e" x1="49.5" y1="398.2" x2="49.5" y2="387.3"/>
<line class="c" x1="47.6" y1="387.3" x2="52.2" y2="387.3"/>
<rect x="45.6" y="398.2" width="8.6" height="47.1" fill="#000"/>
<line class="e" x1="63.5" y1="412" x2="63.5" y2="404.2"/>
<line class="c" x1="60.7" y1="404.2" x2="65.3" y2="404.2"/>
<rect x="58.7" y="412" width="8.6" height="33.3" fill="#000"/>
<line class="e" x1="76.5" y1="400.9" x2="76.5" y2="389.4"/>
<line class="c" x1="74.2" y1="389.4" x2="78.8" y2="389.4"/>
<rect x="72.2" y="400.9" width="8.6" height="44.4" fill="#000"/>
<line class="e" x1="89.5" y1="399.9" x2="89.5" y2="385.2"/>
<line class="c" x1="87.4" y1="385.2" x2="92" y2="385.2"/>
<rect x="85.4" y="399.9" width="8.6" height="45.4" fill="#000"/>
<line class="e" x1="102.5" y1="407.7" x2="102.5" y2="399.1"/>
<line class="c" x1="100.5" y1="399.1" x2="105.1" y2="399.1"/>
<rect x="98.5" y="407.7" width="8.6" height="37.6" fill="#000"/>
<rect x="120.85" y="415" width="7.9" height="30.3" fill="#a3a3a3" stroke="#000" stroke-width="1.4"/>
<line class="e" x1="124.5" y1="422.3" x2="124.5" y2="406.2"/>
<line class="c" x1="122.5" y1="406.2" x2="127.1" y2="406.2"/>
<line class="c" x1="122.5" y1="422.3" x2="127.1" y2="422.3"/>
<rect x="134.25" y="418.1" width="7.9" height="27.2" fill="#a3a3a3" stroke="#000" stroke-width="1.4"/>
<line class="e" x1="138.5" y1="423.3" x2="138.5" y2="410.6"/>
<line class="c" x1="135.9" y1="410.6" x2="140.5" y2="410.6"/>
<line class="c" x1="135.9" y1="423.3" x2="140.5" y2="423.3"/>
<rect x="147.65" y="395" width="7.9" height="50.3" fill="#a3a3a3" stroke="#000" stroke-width="1.4"/>
<line class="e" x1="151.5" y1="408.2" x2="151.5" y2="379.4"/>
<line class="c" x1="149.3" y1="379.4" x2="153.9" y2="379.4"/>
<line class="c" x1="149.3" y1="408.2" x2="153.9" y2="408.2"/>
<rect x="160.55" y="405.2" width="7.9" height="40.1" fill="#a3a3a3" stroke="#000" stroke-width="1.4"/>
<line class="e" x1="164.5" y1="411.8" x2="164.5" y2="396.5"/>
<line class="c" x1="162.2" y1="396.5" x2="166.8" y2="396.5"/>
<line class="c" x1="162.2" y1="411.8" x2="166.8" y2="411.8"/>
<rect x="173.85" y="404" width="7.9" height="41.3" fill="#a3a3a3" stroke="#000" stroke-width="1.4"/>
<line class="e" x1="177.5" y1="410.1" x2="177.5" y2="395.2"/>
<line class="c" x1="175.5" y1="395.2" x2="180.1" y2="395.2"/>
<line class="c" x1="175.5" y1="410.1" x2="180.1" y2="410.1"/>
<path class="a" d="M41.3 347.7V445.3H186.9"/>
<line class="d" x1="113.9" y1="355" x2="113.9" y2="445.3"/>
<line class="a" x1="37.5" y1="445.3" x2="41.3" y2="445.3"/>
<text class="b" font-size="6.8" text-anchor="end" x="35.6" y="447.75">0</text>
<line class="a" x1="37.5" y1="412.93" x2="41.3" y2="412.93"/>
<text class="b" font-size="6.8" text-anchor="end" x="35.6" y="415.38">5</text>
<line class="a" x1="37.5" y1="380.57" x2="41.3" y2="380.57"/>
<text class="b" font-size="6.8" text-anchor="end" x="35.6" y="383.01">10</text>
<line class="a" x1="37.5" y1="348.2" x2="41.3" y2="348.2"/>
<text class="b" font-size="6.8" text-anchor="end" x="35.6" y="350.65">15</text>
<line class="a" x1="49.9" y1="445.3" x2="49.9" y2="449.2"/>
<text class="b" font-size="7.5" text-anchor="end" transform="translate(51.8 455.1) rotate(-45)">Control</text>
<line class="a" x1="63" y1="445.3" x2="63" y2="449.2"/>
<text class="b" font-size="7.5" text-anchor="end" transform="translate(64.9 455.1) rotate(-45)">0.1 µM</text>
<line class="a" x1="76.5" y1="445.3" x2="76.5" y2="449.2"/>
<text class="b" font-size="7.5" text-anchor="end" transform="translate(78.4 455.1) rotate(-45)">1 µM</text>
<line class="a" x1="89.7" y1="445.3" x2="89.7" y2="449.2"/>
<text class="b" font-size="7.5" text-anchor="end" transform="translate(91.6 455.1) rotate(-45)">10 µM</text>
<line class="a" x1="102.8" y1="445.3" x2="102.8" y2="449.2"/>
<text class="b" font-size="7.5" text-anchor="end" transform="translate(104.7 455.1) rotate(-45)">100 µM</text>
<line class="a" x1="124.8" y1="445.3" x2="124.8" y2="449.2"/>
<text class="b" font-size="7.5" text-anchor="end" transform="translate(126.7 455.1) rotate(-45)">Control</text>
<line class="a" x1="138.2" y1="445.3" x2="138.2" y2="449.2"/>
<text class="b" font-size="7.5" text-anchor="end" transform="translate(140.1 455.1) rotate(-45)">0.1 µM</text>
<line class="a" x1="151.6" y1="445.3" x2="151.6" y2="449.2"/>
<text class="b" font-size="7.5" text-anchor="end" transform="translate(153.5 455.1) rotate(-45)">1 µM</text>
<line class="a" x1="164.5" y1="445.3" x2="164.5" y2="449.2"/>
<text class="b" font-size="7.5" text-anchor="end" transform="translate(166.4 455.1) rotate(-45)">10 µM</text>
<line class="a" x1="177.8" y1="445.3" x2="177.8" y2="449.2"/>
<text class="b" font-size="7.5" text-anchor="end" transform="translate(179.7 455.1) rotate(-45)">100 µM</text>
<text class="b" font-size="8" text-anchor="middle" transform="translate(12.08 396.75) rotate(-90)">Live with active caspases [%]</text>
<rect x="208.6" y="352.1" width="10.2" height="5" fill="#000"/>
<rect x="209.35" y="365.75" width="8.7" height="3.5" fill="#a3a3a3" stroke="#000" stroke-width="1.5"/>
<text class="r" font-size="7.92" x="225" y="357.1">1h</text>
<text class="r" font-size="7.92" x="225" y="370">3hrs</text>
</g>
<!-- panel H -->
<g>
<line class="e" x1="292.5" y1="379.2" x2="292.5" y2="372.3"/>
<line class="c" x1="289.9" y1="372.3" x2="294.5" y2="372.3"/>
<rect x="287.95" y="379.2" width="8.5" height="65.6" fill="#000"/>
<line class="e" x1="305.5" y1="441.2" x2="305.5" y2="440.6"/>
<line class="c" x1="302.9" y1="440.6" x2="307.5" y2="440.6"/>
<rect x="300.95" y="441.2" width="8.5" height="3.6" fill="#000"/>
<line class="e" x1="318.5" y1="441.7" x2="318.5" y2="440.8"/>
<line class="c" x1="315.9" y1="440.8" x2="320.5" y2="440.8"/>
<rect x="313.95" y="441.7" width="8.5" height="3.1" fill="#000"/>
<line class="e" x1="331.5" y1="441.5" x2="331.5" y2="440.6"/>
<line class="c" x1="329.2" y1="440.6" x2="333.8" y2="440.6"/>
<rect x="327.25" y="441.5" width="8.5" height="3.3" fill="#000"/>
<line class="e" x1="344.5" y1="439.9" x2="344.5" y2="439.2"/>
<line class="c" x1="342.2" y1="439.2" x2="346.8" y2="439.2"/>
<rect x="340.25" y="439.9" width="8.5" height="4.9" fill="#000"/>
<rect x="363.1" y="413.7" width="7.6" height="31.1" fill="#a3a3a3" stroke="#000" stroke-width="1.4"/>
<line class="e" x1="366.5" y1="419.1" x2="366.5" y2="406.5"/>
<line class="c" x1="364.6" y1="406.5" x2="369.2" y2="406.5"/>
<line class="c" x1="364.6" y1="419.1" x2="369.2" y2="419.1"/>
<rect x="376.3" y="442.3" width="7.6" height="2.5" fill="#a3a3a3" stroke="#000" stroke-width="1.4"/>
<line class="e" x1="380.5" y1="442.4" x2="380.5" y2="440.6"/>
<line class="c" x1="377.8" y1="440.6" x2="382.4" y2="440.6"/>
<line class="c" x1="377.8" y1="442.4" x2="382.4" y2="442.4"/>
<rect x="389.7" y="438.6" width="7.6" height="6.2" fill="#a3a3a3" stroke="#000" stroke-width="1.4"/>
<line class="e" x1="393.5" y1="440.6" x2="393.5" y2="435"/>
<line class="c" x1="391.2" y1="435" x2="395.8" y2="435"/>
<line class="c" x1="391.2" y1="440.6" x2="395.8" y2="440.6"/>
<rect x="402.9" y="438.1" width="7.6" height="6.7" fill="#a3a3a3" stroke="#000" stroke-width="1.4"/>
<line class="e" x1="406.5" y1="439.8" x2="406.5" y2="435"/>
<line class="c" x1="404.4" y1="435" x2="409" y2="435"/>
<line class="c" x1="404.4" y1="439.8" x2="409" y2="439.8"/>
<rect x="416.1" y="439.8" width="7.6" height="5" fill="#a3a3a3" stroke="#000" stroke-width="1.4"/>
<line class="e" x1="419.5" y1="440.8" x2="419.5" y2="437.4"/>
<line class="c" x1="417.6" y1="437.4" x2="422.2" y2="437.4"/>
<line class="c" x1="417.6" y1="440.8" x2="422.2" y2="440.8"/>
<path class="a" d="M282.8 349.3V444.8H429.2"/>
<line class="d" x1="356.1" y1="355.2" x2="356.1" y2="444.8"/>
<line class="a" x1="279" y1="444.8" x2="282.8" y2="444.8"/>
<text class="b" font-size="7.3" text-anchor="end" x="277.9" y="447.43">0</text>
<line class="a" x1="279" y1="425.8" x2="282.8" y2="425.8"/>
<text class="b" font-size="7.3" text-anchor="end" x="277.9" y="428.43">5</text>
<line class="a" x1="279" y1="406.8" x2="282.8" y2="406.8"/>
<text class="b" font-size="7.3" text-anchor="end" x="277.9" y="409.43">10</text>
<line class="a" x1="279" y1="387.8" x2="282.8" y2="387.8"/>
<text class="b" font-size="7.3" text-anchor="end" x="277.9" y="390.43">15</text>
<line class="a" x1="279" y1="368.8" x2="282.8" y2="368.8"/>
<text class="b" font-size="7.3" text-anchor="end" x="277.9" y="371.43">20</text>
<line class="a" x1="279" y1="349.8" x2="282.8" y2="349.8"/>
<text class="b" font-size="7.3" text-anchor="end" x="277.9" y="352.43">25</text>
<line class="a" x1="292.2" y1="444.8" x2="292.2" y2="448.7"/>
<text class="b" font-size="7.52" text-anchor="end" transform="translate(294.7 454.2) rotate(-45)">Control</text>
<line class="a" x1="305.2" y1="444.8" x2="305.2" y2="448.7"/>
<text class="b" font-size="7.52" text-anchor="end" transform="translate(307.7 454.2) rotate(-45)">0.1 µM</text>
<line class="a" x1="318.2" y1="444.8" x2="318.2" y2="448.7"/>
<text class="b" font-size="7.52" text-anchor="end" transform="translate(320.7 454.2) rotate(-45)">1 µM</text>
<line class="a" x1="331.5" y1="444.8" x2="331.5" y2="448.7"/>
<text class="b" font-size="7.52" text-anchor="end" transform="translate(334 454.2) rotate(-45)">10 µM</text>
<line class="a" x1="344.5" y1="444.8" x2="344.5" y2="448.7"/>
<text class="b" font-size="7.52" text-anchor="end" transform="translate(347 454.2) rotate(-45)">100 µM</text>
<line class="a" x1="366.9" y1="444.8" x2="366.9" y2="448.7"/>
<text class="b" font-size="7.52" text-anchor="end" transform="translate(369.4 454.2) rotate(-45)">Control</text>
<line class="a" x1="380.1" y1="444.8" x2="380.1" y2="448.7"/>
<text class="b" font-size="7.52" text-anchor="end" transform="translate(382.6 454.2) rotate(-45)">0.1 µM</text>
<line class="a" x1="393.5" y1="444.8" x2="393.5" y2="448.7"/>
<text class="b" font-size="7.52" text-anchor="end" transform="translate(396 454.2) rotate(-45)">1 µM</text>
<line class="a" x1="406.7" y1="444.8" x2="406.7" y2="448.7"/>
<text class="b" font-size="7.52" text-anchor="end" transform="translate(409.2 454.2) rotate(-45)">10 µM</text>
<line class="a" x1="419.9" y1="444.8" x2="419.9" y2="448.7"/>
<text class="b" font-size="7.52" text-anchor="end" transform="translate(422.4 454.2) rotate(-45)">100 µM</text>
<text class="r" font-size="7.92" text-anchor="middle" x="292.2" y="363.1">A</text>
<text class="r" font-size="7.92" text-anchor="middle" x="305.2" y="432.2">B</text>
<text class="r" font-size="7.92" text-anchor="middle" x="319.2" y="432.7">B</text>
<text class="r" font-size="7.92" text-anchor="middle" x="331.5" y="429.9">B</text>
<text class="r" font-size="7.92" text-anchor="middle" x="344.5" y="429.8">B</text>
<text class="r" font-size="7.92" text-anchor="middle" x="366.7" y="396.7">A</text>
<text class="r" font-size="7.92" text-anchor="middle" x="379.9" y="429.8">B</text>
<text class="r" font-size="7.92" text-anchor="middle" x="393.3" y="427.9">B</text>
<text class="r" font-size="7.92" text-anchor="middle" x="406.5" y="426.6">B</text>
<text class="r" font-size="7.92" text-anchor="middle" x="420.8" y="429">B</text>
<text class="b" font-size="7.8" text-anchor="middle" transform="translate(254.13 397.3) rotate(-90)">Live with LPO [%]</text>
<rect x="450.6" y="353.9" width="10.3" height="5" fill="#000"/>
<rect x="451.35" y="367.25" width="8.8" height="3.5" fill="#a3a3a3" stroke="#000" stroke-width="1.5"/>
<text class="r" font-size="7.92" x="467" y="358.9">1h</text>
<text class="r" font-size="7.92" x="467" y="371.5">3hrs</text>
</g>
</svg></body></html>
